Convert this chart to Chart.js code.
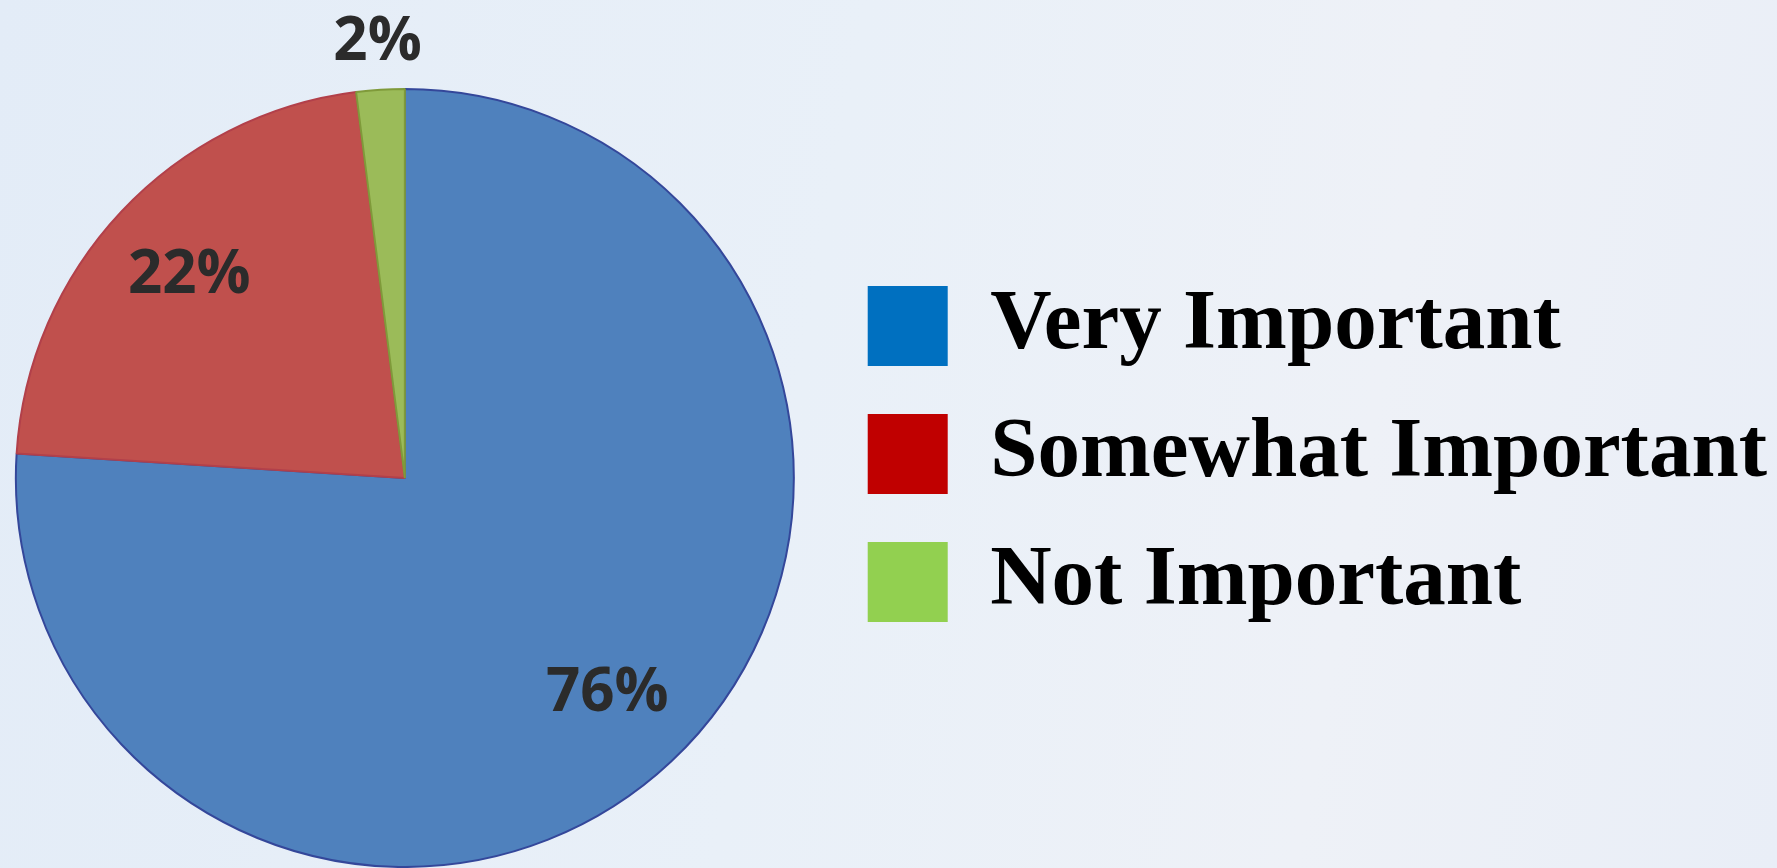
<!DOCTYPE html>
<html>
<head>
<meta charset="utf-8">
<script src="https://cdn.jsdelivr.net/npm/chart.js@4"></script>
<style>
  html, body { margin: 0; padding: 0; overflow: hidden; }
  body {
    width: 1777px; height: 868px;
    background: linear-gradient(100deg, #e3ecf7 0%, #e9f0f8 45%, #eef1f7 75%, #e9eef7 100%);
  }
  #wrap { position: relative; width: 1777px; height: 868px; overflow: hidden; }
  /* pie sits slightly off the left edge, so the canvas starts a bit left of the page */
  #box { position: absolute; left: -15px; top: 0; width: 1792px; height: 868px; }
</style>
</head>
<body>
<div id="wrap"><div id="box"><canvas id="pie"></canvas></div></div>
<script>
const labels = ['Very Important', 'Somewhat Important', 'Not Important'];
const values = [76, 22, 2];

const sliceColors = ['#4f81bd', '#c0504d', '#9bbb59'];
const sliceBorders = ['#34479a', '#b2404a', '#7f9a3a'];
const legendColors = ['#0070c0', '#c00000', '#92d050'];

// percentage labels, small slices go outside
const pctLabels = {
  id: 'pctLabels',
  afterDatasetsDraw(chart) {
    const ctx = chart.ctx;
    const meta = chart.getDatasetMeta(0);
    ctx.save();
    ctx.font = "bold 60px 'Open Sans'";
    ctx.fillStyle = '#2b2b2b';
    ctx.textAlign = 'center';
    ctx.textBaseline = 'middle';
    meta.data.forEach((arc, i) => {
      const p = arc.getProps(['x', 'y', 'startAngle', 'endAngle', 'outerRadius'], true);
      const mid = (p.startAngle + p.endAngle) / 2;
      const f = values[i] < 5 ? 1.12 : 0.76;
      const x = p.x + Math.cos(mid) * p.outerRadius * f;
      const y = p.y + Math.sin(mid) * p.outerRadius * f;
      ctx.fillText(values[i] + '%', x, y);
    });
    ctx.restore();
  }
};

// legend sits a bit higher than the pie centre
const legendNudge = {
  id: 'legendNudge',
  afterLayout(chart) {
    chart.legend.top -= 24;
    chart.legend.bottom -= 24;
  }
};

const ctx = document.getElementById('pie').getContext('2d');

const chart = new Chart(ctx, {
  type: 'pie',
  data: {
    labels: labels,
    datasets: [{
      data: values,
      backgroundColor: sliceColors,
      borderColor: sliceBorders,
      borderWidth: 2,
    }]
  },
  options: {
    responsive: true,
    maintainAspectRatio: false,
    animation: false,
    layout: { padding: { top: 88, bottom: 0, left: 0, right: 0 } },
    plugins: {
      tooltip: { enabled: false },
      legend: {
        position: 'right',
        align: 'center',
        maxWidth: 1000,
        labels: {
          boxWidth: 80,
          boxHeight: 80,
          padding: 43,
          color: '#000',
          font: { family: "'Liberation Serif', 'Times New Roman', serif", size: 85, weight: 'bold' },
          generateLabels: (c) => labels.map((t, i) => ({
            text: t,
            fillStyle: legendColors[i],
            strokeStyle: legendColors[i],
            lineWidth: 0,
            fontColor: '#000',
            index: i,
          })),
        }
      }
    }
  },
  plugins: [pctLabels, legendNudge]
});
</script>
</body>
</html>
